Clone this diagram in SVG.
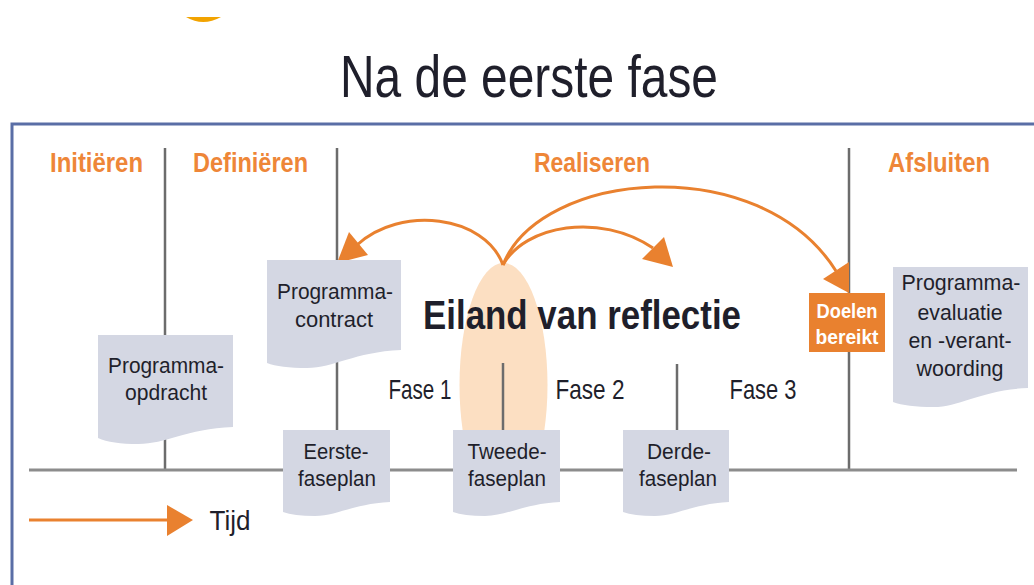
<svg xmlns="http://www.w3.org/2000/svg" width="1034" height="585" viewBox="0 0 1034 585">
<defs>
<style>
.doc{fill:#d4d7e3}
.t{font-family:"Liberation Sans",Arial,sans-serif;fill:#1f1f2b;text-anchor:middle}
.dt{font-size:22px}
.ph{font-family:"Liberation Sans",Arial,sans-serif;fill:#ee8638;font-size:27px;font-weight:bold}
.fase{font-size:28px}
.vl{stroke:#6c6c6c;stroke-width:2.5;fill:none}
.arc{stroke:#e9812f;stroke-width:3;fill:none}
.ah{fill:#e9812f}
</style>
</defs>
<rect width="1034" height="585" fill="#ffffff"/>
<path d="M186,17 Q203,27 221,17 Z" fill="#f2a300"/>
<text class="t" x="529" y="97" font-size="60" textLength="378" lengthAdjust="spacingAndGlyphs">Na de eerste fase</text>
<g id="frame">
<path d="M12,585 V124 H1034" stroke="#5a6ea6" stroke-width="3" fill="none"/>
</g>
<g id="phase-labels">
<text class="ph" x="50" y="172" textLength="93" lengthAdjust="spacingAndGlyphs">Initiëren</text>
<text class="ph" x="193" y="172" textLength="115" lengthAdjust="spacingAndGlyphs">Definiëren</text>
<text class="ph" x="534" y="172" textLength="116" lengthAdjust="spacingAndGlyphs">Realiseren</text>
<text class="ph" x="888" y="172" textLength="102" lengthAdjust="spacingAndGlyphs">Afsluiten</text>
</g>
<g id="ellipse">
<ellipse cx="503.5" cy="385" rx="44" ry="122" fill="#fcdfc2"/>
</g>
<g id="lines">
<line class="vl" x1="165" y1="148" x2="165" y2="470"/>
<line class="vl" x1="337" y1="148" x2="337" y2="430"/>
<line class="vl" x1="849" y1="148" x2="849" y2="470"/>
<line class="vl" x1="503" y1="363" x2="503" y2="430"/>
<line class="vl" x1="677" y1="364" x2="677" y2="430"/>
<line x1="29" y1="470" x2="1017" y2="470" stroke="#8c8c8c" stroke-width="3"/>
</g>
<g id="connectors">
<path class="arc" d="M503,265 C485,215 400,205 357,245"/>
<polygon class="ah" points="337,263 349,232 368,255"/>
<path class="arc" d="M503,265 C525,225 600,212 653,248"/>
<polygon class="ah" points="673,267 642,259 664,237"/>
<path class="arc" d="M503,265 C540,170 760,150 836,271"/>
<polygon class="ah" points="849,293 823,279 849,262"/>
<line x1="29" y1="520" x2="170" y2="520" stroke="#e9812f" stroke-width="3"/>
<polygon class="ah" points="167,505 193,520 167,536"/>
</g>
<g id="programma-opdracht">
<path class="doc" d="M98,335 H233 V427 C186,429 165.5,444 138.5,444 Q111.5,444 98,438 Z"/>
<text class="t dt" x="166" y="373" textLength="116" lengthAdjust="spacingAndGlyphs">Programma-</text>
<text class="t dt" x="166" y="400" textLength="82" lengthAdjust="spacingAndGlyphs">opdracht</text>
</g>
<g id="programma-contract">
<path class="doc" d="M267,260 H401 V350 C354,352 334,368 307,368 Q280,368 267,363 Z"/>
<text class="t dt" x="335" y="299" textLength="116" lengthAdjust="spacingAndGlyphs">Programma-</text>
<text class="t dt" x="334" y="327" textLength="78" lengthAdjust="spacingAndGlyphs">contract</text>
</g>
<g id="eerste-faseplan">
<path class="doc" d="M283,430 H390 V502 C352.5,504 336.5,516 315,516 Q293.7,516 283,512 Z"/>
<text class="t dt" x="336" y="459" textLength="65" lengthAdjust="spacingAndGlyphs">Eerste-</text>
<text class="t dt" x="337" y="486" textLength="78" lengthAdjust="spacingAndGlyphs">faseplan</text>
</g>
<g id="tweede-faseplan">
<path class="doc" d="M453,430 H560 V502 C522.5,504 506.5,516 485,516 Q463.7,516 453,512 Z"/>
<text class="t dt" x="507" y="459" textLength="79" lengthAdjust="spacingAndGlyphs">Tweede-</text>
<text class="t dt" x="507" y="486" textLength="78" lengthAdjust="spacingAndGlyphs">faseplan</text>
</g>
<g id="derde-faseplan">
<path class="doc" d="M623,430 H729 V502 C691.9,504 676,516 654.8,516 Q633.6,516 623,512 Z"/>
<text class="t dt" x="679" y="459" textLength="64" lengthAdjust="spacingAndGlyphs">Derde-</text>
<text class="t dt" x="678" y="486" textLength="78" lengthAdjust="spacingAndGlyphs">faseplan</text>
</g>
<g id="programma-evaluatie">
<path class="doc" d="M893,267 H1028 V388 C980.75,390 960.5,407 933.5,407 Q906.5,407 893,402 Z"/>
<text class="t dt" x="961" y="290" textLength="119" lengthAdjust="spacingAndGlyphs">Programma-</text>
<text class="t dt" x="960" y="320" textLength="85" lengthAdjust="spacingAndGlyphs">evaluatie</text>
<text class="t dt" x="960" y="348" textLength="103" lengthAdjust="spacingAndGlyphs">en -verant-</text>
<text class="t dt" x="960" y="376" textLength="87" lengthAdjust="spacingAndGlyphs">woording</text>
</g>
<g id="doelen-bereikt">
<rect x="809" y="293" width="76" height="59" fill="#e9812f"/>
<text class="t" x="847" y="318" font-size="21" font-weight="bold" fill="#ffffff" style="fill:#ffffff" textLength="61" lengthAdjust="spacingAndGlyphs">Doelen</text>
<text class="t" x="847" y="344" font-size="21" font-weight="bold" style="fill:#ffffff" textLength="63" lengthAdjust="spacingAndGlyphs">bereikt</text>
</g>
<g id="eiland">
<text class="t" x="582" y="329" font-size="41" font-weight="bold" textLength="318" lengthAdjust="spacingAndGlyphs">Eiland van reflectie</text>
</g>
<g id="fases">
<text class="t fase" x="420" y="399" textLength="63" lengthAdjust="spacingAndGlyphs">Fase 1</text>
<text class="t fase" x="590" y="399" textLength="69" lengthAdjust="spacingAndGlyphs">Fase 2</text>
<text class="t fase" x="763" y="399" textLength="67" lengthAdjust="spacingAndGlyphs">Fase 3</text>
</g>
<g id="tijd">
<text class="t" x="230" y="530" font-size="27" textLength="41" lengthAdjust="spacingAndGlyphs">Tijd</text>
</g>
</svg>
